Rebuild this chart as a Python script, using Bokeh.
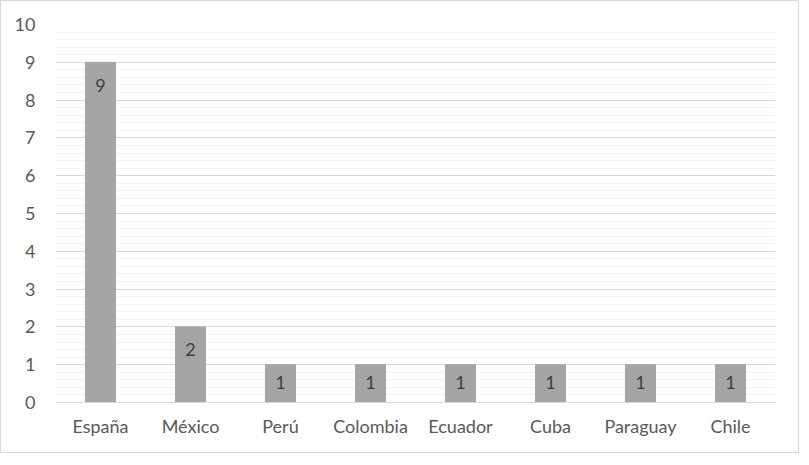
from bokeh.plotting import figure
from bokeh.models import ColumnDataSource, FixedTicker, Range1d
from bokeh.core.properties import value
from bokeh.embed import file_html
from bokeh.resources import INLINE

countries = ["España", "México", "Perú", "Colombia", "Ecuador", "Cuba", "Paraguay", "Chile"]
counts = [9, 2, 1, 1, 1, 1, 1, 1]
y_ticks = [0, 1, 2, 3, 4, 5, 6, 7, 8, 9, 10]

label_offsets = [23 if c > 1 else 18 for c in counts]
src = ColumnDataSource(dict(x=countries, top=counts,
                            label=[str(c) for c in counts],
                            yoff=label_offsets))

FONT = "Lato"

p = figure(x_range=countries, frame_width=720, frame_height=378,
           output_backend="svg", toolbar_location=None,
           min_border_left=54, min_border_right=23,
           min_border_top=23, min_border_bottom=50)
p.y_range = Range1d(0, 10)
p.styles = {"border": "1px solid #D9D9D9"}
p.outline_line_color = None
p.background_fill_color = "white"
p.border_fill_color = "white"

p.vbar(x="x", top="top", width=0.333, source=src,
       fill_color="#A5A5A5", line_color="#A5A5A5", line_width=1)

p.text(x="x", y="top", text="label", y_offset="yoff", source=src,
       text_align="center", text_baseline="middle",
       text_font=value(FONT), text_font_size="18px", text_color="#404040")

p.yaxis.ticker = FixedTicker(ticks=y_ticks,
                             minor_ticks=[i / 5 for i in range(51)])
p.ygrid.grid_line_color = "#D9D9D9"
p.ygrid.grid_line_width = 1
p.ygrid.minor_grid_line_color = "#F2F2F2"
p.ygrid.minor_grid_line_width = 1
p.xgrid.grid_line_color = None

for ax in (p.xaxis, p.yaxis):
    ax.major_tick_line_color = None
    ax.minor_tick_line_color = None
    ax.major_label_text_font = FONT
    ax.major_label_text_font_size = "18px"
    ax.major_label_text_color = "#595959"

p.yaxis.axis_line_color = None
p.yaxis.major_label_standoff = 14
p.xaxis.axis_line_color = "#D9D9D9"
p.xaxis.major_label_standoff = 6
p.x_range.range_padding = 0.0

open("out.html", "w").write(file_html(p, INLINE))
